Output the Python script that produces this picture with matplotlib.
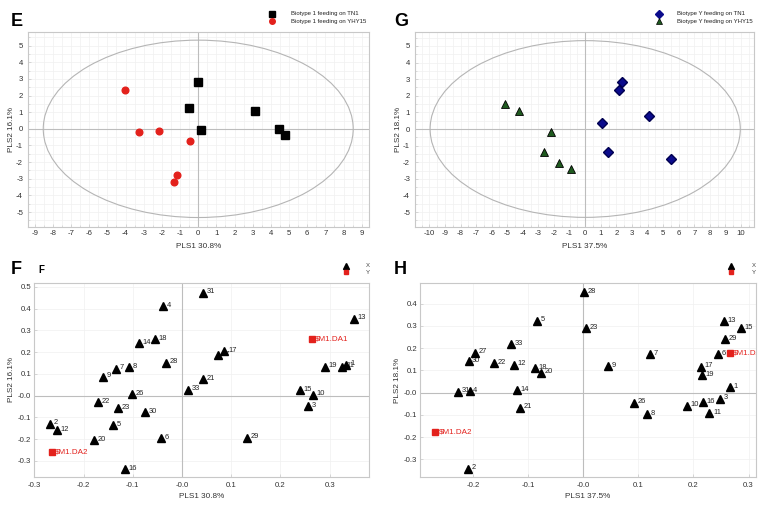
import matplotlib
matplotlib.use("Agg")
import matplotlib.pyplot as plt
from matplotlib.patches import Ellipse
from matplotlib.lines import Line2D
from matplotlib.ticker import FixedLocator, MultipleLocator

plt.rcParams['font.family'] = ['Liberation Sans', 'DejaVu Sans']

# ---------------- Data ----------------
# Panel E: scores, biotype 1
e_tn1_x = [0.0, -0.5, 0.16, 3.13, 4.43, 4.8]
e_tn1_y = [2.83, 1.27, -0.08, 1.06, -0.02, -0.36]
e_yhy_x = [-4.05, -3.26, -2.14, -0.44, -1.17, -1.32]
e_yhy_y = [2.33, -0.22, -0.16, -0.72, -2.77, -3.19]

# Panel G: scores, biotype Y
g_tn1_x = [2.35, 2.16, 1.07, 4.08, 1.47, 5.51]
g_tn1_y = [2.83, 2.37, 0.36, 0.76, -1.39, -1.79]
g_yhy_x = [-5.17, -4.25, -2.18, -2.67, -1.65, -0.92]
g_yhy_y = [1.49, 1.08, -0.2, -1.41, -2.05, -2.39]

# Panel F: loadings
f_labels = ['31', '4', '13', '14', '18', '17', '27', '28', '7', '8', '9', '19', '11', '1',
            '21', '33', '15', '10', '26', '22', '23', '30', '3', '5', '2', '12', '20',
            '6', '29', '16']
f_x = [0.042, -0.038, 0.349, -0.087, -0.055, 0.086, 0.074, -0.032, -0.135, -0.108, -0.160,
       0.291, 0.326, 0.334, 0.042, 0.012, 0.239, 0.266, -0.101, -0.171, -0.131, -0.075,
       0.257, -0.141, -0.269, -0.255, -0.179, -0.043, 0.132, -0.116]
f_y = [0.474, 0.411, 0.354, 0.241, 0.259, 0.205, 0.186, 0.152, 0.124, 0.132, 0.087,
       0.133, 0.133, 0.143, 0.075, 0.028, 0.026, 0.005, 0.008, -0.029, -0.058, -0.077,
       -0.048, -0.136, -0.129, -0.159, -0.205, -0.195, -0.193, -0.337]
f_resp_labels = ['$M1.DA1', '$M1.DA2']
f_resp_x = [0.264, -0.264]
f_resp_y = [0.262, -0.261]

# Panel H: loadings
h_labels = ['28', '5', '23', '13', '15', '29', '33', '27', '7', '6', '30', '22', '12', '18',
            '20', '9', '17', '19', '1', '31', '4', '14', '21', '26', '8', '10', '16', '3',
            '11', '2']
h_x = [0.002, -0.084, 0.006, 0.255, 0.286, 0.257, -0.130, -0.197, 0.122, 0.244, -0.208,
       -0.161, -0.125, -0.088, -0.076, 0.045, 0.214, 0.216, 0.266, -0.227, -0.206, -0.120,
       -0.114, 0.092, 0.115, 0.189, 0.217, 0.249, 0.229, -0.209]
h_y = [0.453, 0.324, 0.289, 0.322, 0.291, 0.240, 0.219, 0.180, 0.172, 0.172, 0.141,
       0.132, 0.126, 0.111, 0.090, 0.120, 0.117, 0.078, 0.024, 0.004, 0.007, 0.012,
       -0.067, -0.045, -0.096, -0.058, -0.042, -0.027, -0.091, -0.342]
h_resp_labels = ['$M1.DA1', '$M1.DA2']
h_resp_x = [0.266, -0.268]
h_resp_y = [0.177, -0.175]

# ---------------- Styling helpers ----------------
SPINE = '#c8c8c8'
ZERO = '#bdbdbd'
GRID = '#f0f0f0'
TICKFS = 5.6
LABFS = 5.9
PTFS = 5.4
REDFS = 5.8
RED = '#e3211c'

fig = plt.figure(figsize=(7.74, 5.05), dpi=100)
W, H = 774, 505

def add_ax(l, t, r, b):
    return fig.add_axes([l / W, 1 - b / H, (r - l) / W, (b - t) / H])

def style(ax, xpad, ypad):
    for s in ax.spines.values():
        s.set_color(SPINE)
        s.set_linewidth(0.8)
    ax.tick_params(axis='both', which='both', direction='in', color='#d0d0d0',
                   labelsize=TICKFS, labelcolor='#333333')
    ax.tick_params(axis='x', which='major', pad=xpad)
    ax.tick_params(axis='y', which='major', pad=ypad)
    ax.tick_params(which='major', length=2.5, width=0.6)
    ax.tick_params(which='minor', length=1.5, width=0.5)
    ax.grid(True, which='both', color=GRID, lw=0.5, zorder=0)
    ax.axhline(0, color=ZERO, lw=0.8, zorder=1)
    ax.axvline(0, color=ZERO, lw=0.8, zorder=1)
    ax.set_axisbelow(True)

def fmt_ticks(vals, dec):
    out = []
    for v in vals:
        if abs(v) < 1e-9:
            out.append('-0.0' if dec else '0')
        else:
            out.append(f'{v:.{dec}f}')
    return out

def set_ticks(ax, xt, yt, dec):
    ax.xaxis.set_major_locator(FixedLocator(xt))
    ax.yaxis.set_major_locator(FixedLocator(yt))
    ax.set_xticklabels(fmt_ticks(xt, dec))
    ax.set_yticklabels(fmt_ticks(yt, dec))

def labels(ax, xl, yl, xpos, ypos):
    ax.set_xlabel(xl, fontsize=LABFS, color='#333333')
    ax.set_ylabel(yl, fontsize=LABFS, color='#333333')
    ax.xaxis.set_label_coords(0.5, xpos)
    ax.yaxis.set_label_coords(ypos, 0.5)

# ---------------- Panel E ----------------
axE = add_ax(28, 32, 369, 227)
style(axE, 2.5, 3.5)
axE.add_patch(Ellipse((0, 0), 2 * 8.53, 2 * 5.33, fill=False, ec='#b5b5b5', lw=0.8, zorder=2))
axE.plot(e_tn1_x, e_tn1_y, 's', color='black', ms=6, zorder=3, ls='none')
axE.plot(e_yhy_x, e_yhy_y, 'o', color=RED, ms=4.8, zorder=3, ls='none')
axE.set_xlim(-9.37, 9.4)
axE.set_ylim(-5.9, 5.82)
set_ticks(axE, list(range(-9, 10)), list(range(-5, 6)), 0)
axE.xaxis.set_minor_locator(MultipleLocator(0.5))
axE.yaxis.set_minor_locator(MultipleLocator(0.5))
labels(axE, 'PLS1 30.8%', 'PLS2 16.1%', -0.082, -0.038)

# ---------------- Panel G ----------------
axG = add_ax(415, 32, 754, 227)
style(axG, 2.5, 3.5)
axG.add_patch(Ellipse((0, 0), 2 * 9.95, 2 * 5.32, fill=False, ec='#b5b5b5', lw=0.8, zorder=2))
axG.plot(g_tn1_x, g_tn1_y, 'D', color='#0b0b8c', mec='#000050', ms=5, zorder=3, ls='none')
axG.plot(g_yhy_x, g_yhy_y, '^', color='#1f5a1f', mec='black', mew=0.6, ms=6.3, zorder=3, ls='none')
axG.set_xlim(-10.92, 10.83)
axG.set_ylim(-5.9, 5.84)
set_ticks(axG, list(range(-10, 11)), list(range(-5, 6)), 0)
axG.xaxis.set_minor_locator(MultipleLocator(0.5))
axG.yaxis.set_minor_locator(MultipleLocator(0.5))
labels(axG, 'PLS1 37.5%', 'PLS2 18.1%', -0.082, -0.038)

# ---------------- Loading panels ----------------
def loading(ax, xs, ys, labs, rx, ry, rlabs):
    style(ax, 3.5, 2)
    ax.plot(xs, ys, '^', color='black', ms=6.3, zorder=4, ls='none')
    for x, y, t in zip(xs, ys, labs):
        ax.annotate(t, (x, y), xytext=(2.6, 0.6), textcoords='offset points',
                    fontsize=PTFS, color='#222222', ha='left', va='center', zorder=3,
                    clip_on=True)
    ax.plot(rx, ry, 's', color=RED, ms=3.8, zorder=4, ls='none')
    for x, y, t in zip(rx, ry, rlabs):
        ax.annotate(t.replace('$', r'\$'), (x, y), xytext=(2.3, 0), textcoords='offset points',
                    fontsize=REDFS, color=RED, ha='left', va='center', zorder=3,
                    clip_on=True)

axF = add_ax(34, 283, 369, 477)
loading(axF, f_x, f_y, f_labels, f_resp_x, f_resp_y, f_resp_labels)
axF.set_xlim(-0.3008, 0.38)
axF.set_ylim(-0.374, 0.518)
set_ticks(axF, [-0.3, -0.2, -0.1, 0.0, 0.1, 0.2, 0.3],
          [-0.3, -0.2, -0.1, 0.0, 0.1, 0.2, 0.3, 0.4, 0.5], 1)
labels(axF, 'PLS1 30.8%', 'PLS2 16.1%', -0.08, -0.057)

axH = add_ax(420, 283, 756, 477)
loading(axH, h_x, h_y, h_labels, h_resp_x, h_resp_y, h_resp_labels)
axH.set_xlim(-0.296, 0.3136)
axH.set_ylim(-0.379, 0.493)
set_ticks(axH, [-0.2, -0.1, 0.0, 0.1, 0.2, 0.3],
          [-0.3, -0.2, -0.1, 0.0, 0.1, 0.2, 0.3, 0.4], 1)
labels(axH, 'PLS1 37.5%', 'PLS2 18.1%', -0.08, -0.057)

# ---------------- Panel letters ----------------
def ftext(x, y, s, **kw):
    fig.text(x / W, 1 - y / H, s, **kw)

ftext(11, 21, 'E', fontsize=13, fontweight='bold', va='center', ha='left')
ftext(394, 21, 'G', fontsize=13, fontweight='bold', va='center', ha='left')
ftext(11, 270, 'F', fontsize=13, fontweight='bold', va='center', ha='left')
ftext(38, 270, 'F', fontsize=7, fontweight='bold', va='center', ha='left')
ftext(394, 270, 'H', fontsize=13, fontweight='bold', va='center', ha='left')

# ---------------- Legends ----------------
def fmarker(x, y, **kw):
    fig.add_artist(Line2D([x / W], [1 - y / H], transform=fig.transFigure, ls='none', **kw))

LEGFS = 4.3
fmarker(272, 14, marker='s', color='black', ms=4.2)
fmarker(272, 21, marker='o', color=RED, ms=4)
ftext(291, 14, 'Biotype 1 feeding on TN1', fontsize=LEGFS, va='center', color='#222222')
ftext(291, 21, 'Biotype 1 feeding on YHY15', fontsize=LEGFS, va='center', color='#222222')

fmarker(659, 13.5, marker='D', color='#0b0b8c', ms=3.6)
fmarker(659, 21, marker='^', color='#1f5a1f', mec='black', mew=0.5, ms=4.6)
ftext(677, 14, 'Biotype Y feeding on TN1', fontsize=LEGFS, va='center', color='#222222')
ftext(677, 21, 'Biotype Y feeding on YHY15', fontsize=LEGFS, va='center', color='#222222')

for mx, tx in [(346, 366), (731, 752)]:
    fmarker(mx, 265.5, marker='^', color='black', ms=5)
    fmarker(mx, 272, marker='s', color=RED, ms=3.5)
    ftext(tx, 265.5, 'X', fontsize=LEGFS, va='center', color='#444444')
    ftext(tx, 272.5, 'Y', fontsize=LEGFS, va='center', color='#444444')

fig.savefig('out.png', dpi=100)
